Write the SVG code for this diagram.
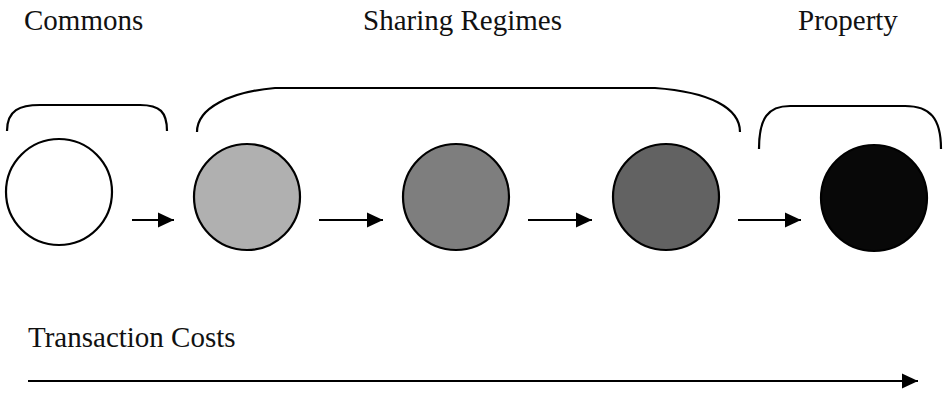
<svg xmlns="http://www.w3.org/2000/svg" width="945" height="393" viewBox="0 0 945 393">
<defs>
<marker id="ah" markerWidth="16" markerHeight="16" viewBox="0 0 16 16" refX="16" refY="8" orient="auto" markerUnits="userSpaceOnUse">
<path d="M0,0.5 L16,8 L0,15.5 Z" fill="#000"/>
</marker>
</defs>
<style>
text{font-family:"Liberation Serif","Times New Roman",serif;font-size:29px;fill:#111}
.br{fill:none;stroke:#000;stroke-width:2.2}
.node{stroke:#000;stroke-width:2.2}
.conn line{stroke:#000;stroke-width:2}
</style>
<g id="labels">
<text x="24" y="30">Commons</text>
<text x="363" y="30">Sharing Regimes</text>
<text x="798" y="30">Property</text>
<text x="28" y="347">Transaction Costs</text>
</g>
<g id="brackets">
<path class="br" d="M7,131 C7,110 20,105 40,105 L140,105 C160,105 167,112 167,131"/>
<path class="br" d="M197,132 C197,108 230,92 275,88 L655,88 C710,92 740,108 740,132"/>
<path class="br" d="M759,149 C759,118 768,106 790,106 L905,106 C930,106 941,118 941,149"/>
</g>
<g id="n1"><circle class="node" cx="59" cy="192" r="53" fill="#fff"/></g>
<g id="n2"><circle class="node" cx="247" cy="197" r="53" fill="#b0b0b0"/></g>
<g id="n3"><circle class="node" cx="456" cy="197" r="53" fill="#7e7e7e"/></g>
<g id="n4"><circle class="node" cx="666" cy="197" r="53" fill="#626262"/></g>
<g id="n5"><circle class="node" cx="874" cy="198" r="53" fill="#080808"/></g>
<g class="conn" id="connectors">
<line x1="132" y1="220" x2="174" y2="220" marker-end="url(#ah)"/>
<line x1="319" y1="220" x2="383" y2="220" marker-end="url(#ah)"/>
<line x1="528" y1="220" x2="592" y2="220" marker-end="url(#ah)"/>
<line x1="738" y1="220" x2="801" y2="220" marker-end="url(#ah)"/>
<line x1="28" y1="381" x2="918" y2="381" marker-end="url(#ah)"/>
</g>
</svg>
